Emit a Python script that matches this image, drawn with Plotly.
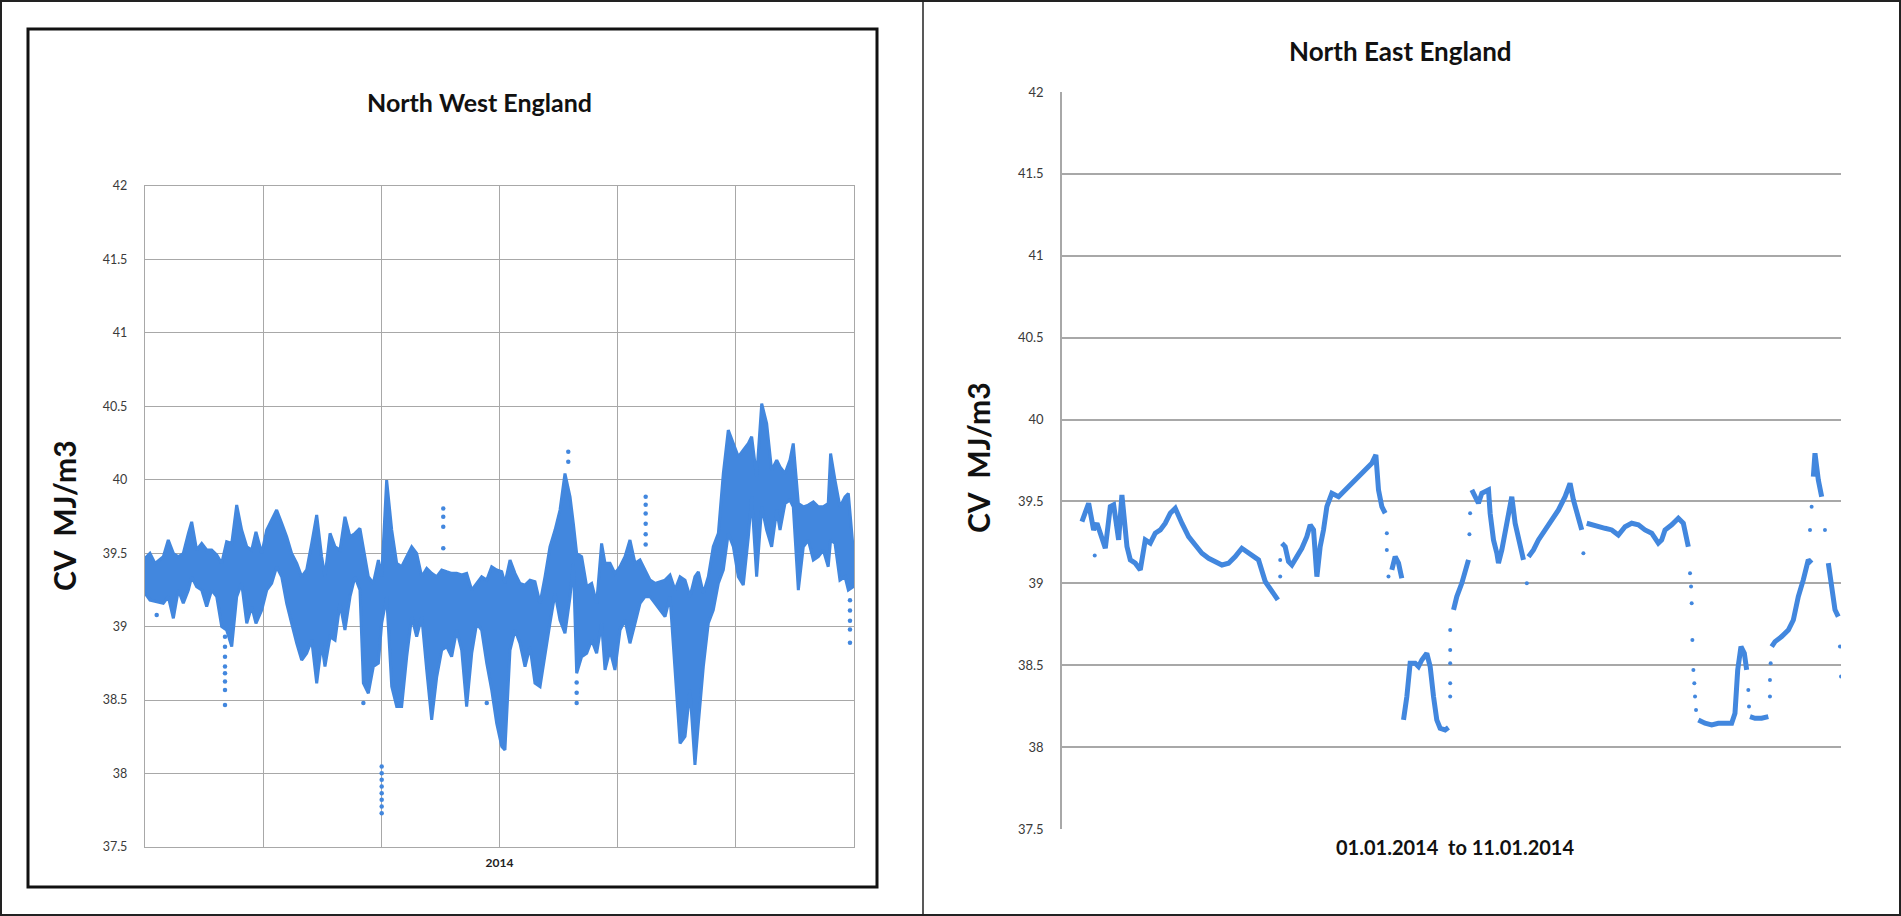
import plotly.graph_objects as go

# ---------------- data ----------------
Y_TICKS = [37.5, 38, 38.5, 39, 39.5, 40, 40.5, 41, 41.5, 42]
Y_TICK_TEXT = ["37.5", "38", "38.5", "39", "39.5", "40", "40.5", "41", "41.5", "42"]
NW_X_TICKS = [0, 1, 2, 3, 4, 5, 6]
NW_X_TICK_TEXT = ["", "", "", "<b>2014</b>", "", "", ""]

# North West England: dense scatter, read as upper / lower envelope per column
NW_X = [0.000, 0.042, 0.085, 0.155, 0.197, 0.240, 0.282, 0.324, 0.367, 0.395, 0.437, 0.480,
        0.522, 0.564, 0.607, 0.649, 0.691, 0.734, 0.776, 0.818, 0.861, 0.903, 0.939, 0.988,
        1.030, 1.072, 1.114, 1.157, 1.199, 1.241, 1.284, 1.326, 1.368, 1.411, 1.453, 1.495,
        1.523, 1.566, 1.608, 1.650, 1.692, 1.735, 1.777, 1.819, 1.848, 1.890, 1.932, 1.975,
        2.003, 2.045, 2.088, 2.130, 2.172, 2.215, 2.257, 2.299, 2.342, 2.384, 2.426, 2.469,
        2.511, 2.553, 2.595, 2.638, 2.680, 2.722, 2.765, 2.807, 2.849, 2.892, 2.934, 2.976,
        3.019, 3.046, 3.089, 3.131, 3.173, 3.216, 3.258, 3.300, 3.343, 3.385, 3.427, 3.470,
        3.512, 3.554, 3.597, 3.625, 3.653, 3.695, 3.738, 3.780, 3.822, 3.864, 3.893, 3.935,
        3.977, 4.020, 4.062, 4.104, 4.147, 4.189, 4.231, 4.274, 4.316, 4.358, 4.401, 4.443,
        4.485, 4.528, 4.570, 4.612, 4.654, 4.683, 4.725, 4.767, 4.809, 4.852, 4.894, 4.936,
        4.979, 5.021, 5.063, 5.106, 5.134, 5.176, 5.219, 5.261, 5.303, 5.346, 5.374, 5.416,
        5.458, 5.486, 5.529, 5.571, 5.613, 5.656, 5.698, 5.740, 5.782, 5.802, 5.839, 5.881,
        5.924, 5.952, 5.994]
NW_HIGH = [39.465, 39.499, 39.431, 39.476, 39.590, 39.499, 39.476, 39.499, 39.635, 39.714, 39.522, 39.567,
           39.522, 39.522, 39.488, 39.431, 39.578, 39.567, 39.828, 39.658, 39.544, 39.522, 39.646, 39.499,
           39.658, 39.726, 39.794, 39.703, 39.612, 39.499, 39.431, 39.340, 39.386, 39.567, 39.760, 39.476,
           39.340, 39.635, 39.544, 39.522, 39.748, 39.612, 39.635, 39.669, 39.522, 39.340, 39.295, 39.454,
           39.340, 39.998, 39.658, 39.431, 39.408, 39.476, 39.544, 39.499, 39.340, 39.397, 39.363, 39.340,
           39.386, 39.374, 39.363, 39.363, 39.352, 39.363, 39.249, 39.295, 39.340, 39.317, 39.408, 39.386,
           39.374, 39.295, 39.454, 39.363, 39.295, 39.283, 39.317, 39.306, 39.159, 39.340, 39.544, 39.658,
           39.794, 40.043, 39.884, 39.703, 39.499, 39.476, 39.272, 39.295, 39.159, 39.567, 39.431, 39.431,
           39.363, 39.408, 39.476, 39.590, 39.431, 39.454, 39.386, 39.317, 39.295, 39.306, 39.317, 39.352,
           39.249, 39.340, 39.317, 39.204, 39.340, 39.374, 39.227, 39.340, 39.544, 39.635, 40.043, 40.338,
           40.247, 40.156, 40.202, 40.247, 40.293, 40.020, 40.519, 40.383, 40.066, 40.134, 40.088, 40.043,
           40.134, 40.247, 39.839, 39.816, 39.828, 39.850, 39.816, 39.816, 39.839, 40.179, 39.998, 39.816,
           39.884, 39.907, 39.522]
NW_LOW = [39.227, 39.181, 39.170, 39.159, 39.204, 39.057, 39.249, 39.159, 39.249, 39.340, 39.272, 39.249,
          39.136, 39.249, 39.204, 39.000, 38.977, 38.864, 39.204, 39.295, 39.023, 39.136, 39.023, 39.113,
          39.249, 39.295, 39.408, 39.340, 39.159, 39.023, 38.887, 38.773, 38.819, 38.909, 38.615, 38.887,
          38.728, 38.932, 38.909, 39.159, 38.977, 39.204, 39.340, 39.249, 38.615, 38.547, 38.728, 38.751,
          39.023, 39.204, 38.592, 38.456, 38.456, 38.796, 39.068, 38.932, 39.068, 38.705, 38.365, 38.660,
          38.841, 38.864, 38.796, 38.977, 38.841, 38.456, 38.819, 39.023, 38.977, 38.751, 38.569, 38.342,
          38.184, 38.161, 38.841, 38.977, 38.887, 38.728, 38.864, 38.615, 38.592, 38.796, 39.023, 39.227,
          39.045, 38.955, 39.204, 39.431, 38.683, 38.796, 38.819, 38.909, 38.819, 39.023, 38.705, 38.841,
          38.705, 38.977, 39.045, 38.887, 39.023, 39.159, 39.204, 39.204, 39.159, 39.113, 39.068, 39.204,
          38.683, 38.206, 38.252, 38.569, 38.059, 38.342, 38.728, 39.023, 39.113, 39.295, 39.386, 39.635,
          39.544, 39.340, 39.283, 39.612, 39.884, 39.340, 39.816, 39.658, 39.544, 39.794, 39.658, 39.839,
          39.862, 39.816, 39.249, 39.544, 39.590, 39.454, 39.476, 39.522, 39.408, 39.590, 39.567, 39.317,
          39.340, 39.249, 39.272]

# isolated points outside the dense band
NW_OUT_X = [0.099,
            0.677, 0.677, 0.677, 0.677, 0.677, 0.677, 0.677, 0.677,
            1.848,
            2.003, 2.003, 2.003, 2.003, 2.003, 2.003, 2.003, 2.003,
            2.524, 2.524, 2.524, 2.524,
            2.892,
            3.582, 3.582,
            3.653, 3.653, 3.653,
            4.237, 4.237, 4.237, 4.237, 4.237, 4.237,
            5.966, 5.966, 5.966, 5.966, 5.966]
NW_OUT_CV = [39.079,
             38.932, 38.864, 38.796, 38.728, 38.683, 38.626, 38.569, 38.467,
             38.48,
             38.048, 38.002, 37.957, 37.912, 37.866, 37.821, 37.775, 37.730,
             39.805, 39.748, 39.680, 39.533,
             38.48,
             40.190, 40.122,
             38.62, 38.55, 38.48,
             39.884, 39.83, 39.77, 39.70, 39.63, 39.56,
             39.18, 39.11, 39.04, 38.98, 38.89]

# North East England: 01.01.2014 to 11.01.2014 (x in days from the start)
NE_X = [0.256, 0.342, 0.406, 0.449, 0.556, 0.620, 0.663, 0.727, 0.769, 0.834, 0.877, 0.941,
        1.005, 1.069, 1.133, 1.197, 1.262, 1.326, 1.390, 1.454, 1.539, 1.625, 1.711, 1.796,
        1.882, 1.967, 2.053, 2.138, 2.224, 2.309, 2.395, 2.481, 2.523, 2.609, 2.673, 2.771, None,
        2.823, 2.865, 2.908, 2.951, 3.015, 3.079, 3.143, 3.186, 3.229, 3.272, 3.314, 3.357,
        3.400, 3.464, 3.550, 3.635, 3.721, 3.806, 3.892, 3.977, 4.029, 4.063, 4.106, 4.149, None,
        4.234, 4.277, 4.320, 4.362, None,
        4.384, 4.427, 4.469, 4.534, 4.576, 4.619, 4.683, 4.726, 4.769, 4.811, 4.854, 4.918, 4.961, None,
        5.026, 5.068, 5.132, 5.175, 5.218, None,
        5.261, 5.303, 5.346, 5.389, 5.432, 5.475, 5.496, 5.539, 5.582, 5.603, 5.646, 5.689,
        5.732, 5.774, 5.817, 5.860, 5.924, None,
        5.988, 6.052, 6.116, 6.202, 6.287, 6.373, 6.458, 6.522, 6.565, 6.629, 6.672, None,
        6.736, 6.800, 6.886, 6.971, 7.057, 7.142, 7.228, 7.313, 7.399, 7.484, 7.570, 7.655,
        7.698, 7.741, 7.827, 7.912, 7.976, 8.040, None,
        8.169, 8.254, 8.340, 8.425, 8.511, 8.596, 8.639, 8.674, 8.716, 8.759, 8.789, None,
        8.832, 8.896, 8.981, 9.067, None,
        9.110, 9.153, 9.238, 9.324, 9.388, 9.452, 9.516, 9.580, 9.623, None,
        9.645, 9.666, 9.709, 9.752, None,
        9.837, 9.880, 9.923, 9.965]
NE_CV = [39.377, 39.489, 39.326, 39.367, 39.214, 39.468, 39.479, 39.265, 39.540, 39.224, 39.143, 39.123,
         39.082, 39.265, 39.245, 39.306, 39.326, 39.367, 39.428, 39.458, 39.367, 39.285, 39.234, 39.184,
         39.153, 39.133, 39.112, 39.123, 39.163, 39.214, 39.184, 39.153, 39.143, 39.011, 38.970, 38.899, None,
         39.245, 39.224, 39.133, 39.112, 39.163, 39.214, 39.285, 39.357, 39.326, 39.041, 39.224, 39.326,
         39.468, 39.550, 39.529, 39.570, 39.611, 39.652, 39.692, 39.733, 39.784, 39.570, 39.468, 39.428, None,
         39.082, 39.163, 39.123, 39.031, None,
         38.166, 38.309, 38.512, 38.512, 38.492, 38.532, 38.573, 38.492, 38.309, 38.166, 38.115, 38.105, 38.120, None,
         38.838, 38.919, 39.000, 39.082, 39.143, None,
         39.570, 39.529, 39.489, 39.550, 39.560, 39.570, 39.428, 39.265, 39.184, 39.123, 39.204, 39.326,
         39.428, 39.529, 39.367, 39.265, 39.143, None,
         39.163, 39.204, 39.265, 39.326, 39.387, 39.448, 39.529, 39.611, 39.509, 39.407, 39.326, None,
         39.367, 39.357, 39.346, 39.336, 39.326, 39.295, 39.346, 39.367, 39.357, 39.326, 39.306, 39.245,
         39.265, 39.326, 39.357, 39.397, 39.367, 39.224, None,
         38.166, 38.146, 38.136, 38.146, 38.146, 38.146, 38.207, 38.471, 38.614, 38.573, 38.471, None,
         38.186, 38.176, 38.176, 38.186, None,
         38.614, 38.644, 38.675, 38.715, 38.776, 38.919, 39.021, 39.143, 39.123, None,
         39.652, 39.794, 39.631, 39.529, None,
         39.123, 39.000, 38.838, 38.797]

# sparse single readings in the fast transitions
NE_DOT_X = [0.420, 2.801, 2.801, 4.170, 4.170, 4.191,
            4.983, 4.983, 4.983, 4.983, 4.983,
            5.230, 5.239, 5.967, 6.693,
            8.062, 8.075, 8.083, 8.092, 8.105, 8.117, 8.126, 8.139,
            8.810, 8.819,
            9.088, 9.088, 9.097,
            9.602, 9.623, 9.794, 9.987, 10.000]
NE_DOT_CV = [39.17, 39.143, 39.041, 39.306, 39.204, 39.041,
             38.309, 38.390, 38.512, 38.593, 38.715,
             39.30, 39.428, 39.000, 39.184,
             39.061, 38.980, 38.878, 38.654, 38.471, 38.390, 38.309, 38.227,
             38.349, 38.248,
             38.309, 38.410, 38.512,
             39.326, 39.468, 39.326, 38.614, 38.431]

# ---------------- layout helpers ----------------
W, H = 1901, 916


def px(x):
    return x / W


def py(y):
    return 1 - y / H


BLUE = "#4287DE"
GRID = "#a8a8a8"
FONT = "Lato"

fig = go.Figure()

# NW band
fig.add_trace(go.Scatter(
    x=NW_X + NW_X[::-1], y=NW_HIGH + NW_LOW[::-1],
    fill="toself", fillcolor=BLUE, mode="lines",
    line=dict(color=BLUE, width=3, shape="linear"),
    xaxis="x", yaxis="y", hoverinfo="skip", showlegend=False))
fig.add_trace(go.Scatter(
    x=NW_OUT_X, y=NW_OUT_CV, mode="markers",
    marker=dict(color=BLUE, size=4.5),
    xaxis="x", yaxis="y", showlegend=False))

# NE series
fig.add_trace(go.Scatter(
    x=NE_X, y=NE_CV, mode="lines",
    line=dict(color=BLUE, width=5),
    connectgaps=False,
    xaxis="x2", yaxis="y2", showlegend=False))
fig.add_trace(go.Scatter(
    x=NE_DOT_X, y=NE_DOT_CV, mode="markers",
    marker=dict(color=BLUE, size=4),
    xaxis="x2", yaxis="y2", showlegend=False))

fig.update_layout(
    width=W, height=H,
    margin=dict(l=0, r=0, t=0, b=0, pad=0),
    paper_bgcolor="white", plot_bgcolor="white",
    showlegend=False,
    xaxis=dict(domain=[px(145), px(854)], range=[0, 6],
               tickmode="array", tickvals=NW_X_TICKS, ticktext=NW_X_TICK_TEXT,
               showgrid=True, gridcolor=GRID, gridwidth=1.3,
               showline=True, linecolor=GRID, linewidth=1.3, mirror=True,
               zeroline=False, ticks="", ticklabelstandoff=4, automargin=False,
               tickfont=dict(family=FONT, size=12, color="#222")),
    yaxis=dict(domain=[py(847), py(186)], range=[37.5, 42],
               tickmode="array", tickvals=Y_TICKS, ticktext=Y_TICK_TEXT,
               showgrid=True, gridcolor=GRID, gridwidth=1.3,
               showline=True, linecolor=GRID, linewidth=1.3, mirror=True,
               zeroline=False, ticks="", ticklabelstandoff=14, automargin=False,
               tickfont=dict(family=FONT, size=12.5, color="#3a3a3a")),
    xaxis2=dict(domain=[px(1062), px(1841)], range=[0, 10],
                showgrid=False, showticklabels=False, showline=False,
                zeroline=False, ticks="", anchor="y2", automargin=False),
    yaxis2=dict(domain=[py(829), py(92)], range=[37.5, 42],
                tickmode="array", tickvals=Y_TICKS, ticktext=Y_TICK_TEXT,
                showgrid=True, gridcolor=GRID, gridwidth=1.6,
                showline=True, linecolor=GRID, linewidth=1.6,
                zeroline=False, ticks="", ticklabelstandoff=14, automargin=False,
                tickfont=dict(family=FONT, size=13, color="#3a3a3a"), anchor="x2"),
)


def label(text, x, y, size, angle=0):
    return dict(text=text, x=px(x), y=py(y), xref="paper", yref="paper",
                xanchor="center", yanchor="middle", textangle=angle,
                showarrow=False, font=dict(family=FONT, size=size, color="#111"))


fig.update_layout(annotations=[
    label("<b>North West England</b>", 479, 102, 25),
    label("<b>North East England</b>", 1400, 51, 26),
    label("<b>CV  MJ/m3</b>", 64, 516, 30, -90),
    label("<b>CV  MJ/m3</b>", 978, 458, 30, -90),
    label("<b>01.01.2014  to 11.01.2014</b>", 1455, 847, 20),
])

fig.update_layout(shapes=[
    # outer border of the whole figure
    dict(type="rect", xref="paper", yref="paper", x0=px(1), x1=px(W - 1), y0=py(H - 1), y1=py(1),
         line=dict(color="#222", width=2)),
    # separator between the two panels
    dict(type="line", xref="paper", yref="paper", x0=px(923), x1=px(923), y0=0, y1=1,
         line=dict(color="#222", width=1.5)),
    # thick frame around the left chart
    dict(type="rect", xref="paper", yref="paper", x0=px(28), x1=px(877), y0=py(887), y1=py(29),
         line=dict(color="#111", width=3)),
])

fig.write_html("out.html", config={"displayModeBar": False},
               post_script="document.body.style.margin='0px';document.body.style.overflow='hidden';")
